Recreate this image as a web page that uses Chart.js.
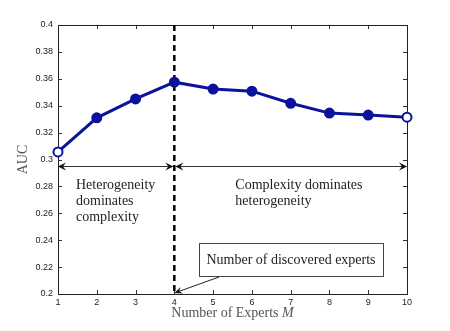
<!DOCTYPE html>
<html><head><meta charset="utf-8">
<script src="https://cdn.jsdelivr.net/npm/chart.js@4/dist/chart.umd.min.js"></script>
<style>html,body{margin:0;padding:0;background:#fff}#wrap{width:450px;height:331px}</style>
</head><body><div id="wrap"><canvas id="c" width="450" height="331"></canvas></div>
<script>
const experts = [1,2,3,4,5,6,7,8,9,10];
const auc = [0.3056,0.3310,0.3450,0.3575,0.3524,0.3508,0.3418,0.3345,0.3330,0.3315];
const xTicks = [1,2,3,4,5,6,7,8,9,10];
const yTicks = [0.2,0.22,0.24,0.26,0.28,0.3,0.32,0.34,0.36,0.38,0.4];
const splitM = 4;
const arrowY = 0.2955;
const leftText = ["Heterogeneity","dominates","complexity"];
const rightText = ["Complexity dominates","heterogeneity"];
const boxText = "Number of discovered experts";

const serif = '"Liberation Serif", "DejaVu Serif", serif';
function arrowHead(ctx, x, y, dir){
  ctx.save();
  ctx.fillStyle='#111';
  ctx.beginPath();
  ctx.moveTo(x,y);
  ctx.lineTo(x-dir*8,y-4);
  ctx.lineTo(x-dir*5,y);
  ctx.lineTo(x-dir*8,y+4);
  ctx.closePath();ctx.fill();
  ctx.restore();
}
const deco = {
  id:'deco',
  beforeDatasetsDraw(chart){
    const {ctx, chartArea:a, scales:{x,y}} = chart;
    ctx.save();
    // ticks inward
    ctx.strokeStyle='#333';ctx.lineWidth=1;
    xTicks.forEach(v=>{const px=Math.round(x.getPixelForValue(v))+0.5;
      ctx.beginPath();ctx.moveTo(px,a.bottom);ctx.lineTo(px,a.bottom-4);ctx.moveTo(px,a.top);ctx.lineTo(px,a.top+4);ctx.stroke();});
    yTicks.forEach(v=>{const py=Math.round(y.getPixelForValue(v))+0.5;
      ctx.beginPath();ctx.moveTo(a.left,py);ctx.lineTo(a.left+4,py);ctx.moveTo(a.right,py);ctx.lineTo(a.right-4,py);ctx.stroke();});
    // box
    ctx.strokeStyle='#222';ctx.lineWidth=1;
    ctx.strokeRect(Math.round(a.left)+0.5,Math.round(a.top)+0.5,Math.round(a.right-a.left),Math.round(a.bottom-a.top));
    // dashed line
    const sx = x.getPixelForValue(splitM);
    ctx.strokeStyle='#000';ctx.lineWidth=2.5;ctx.setLineDash([6,4]);
    ctx.beginPath();ctx.moveTo(sx,a.top);ctx.lineTo(sx,a.bottom);ctx.stroke();
    ctx.setLineDash([]);
    // arrows
    const ay = Math.round(y.getPixelForValue(arrowY))+0.5;
    const x1 = x.getPixelForValue(experts[0]), x2 = x.getPixelForValue(experts[experts.length-1]);
    ctx.strokeStyle='#333';ctx.lineWidth=1;
    ctx.beginPath();ctx.moveTo(x1+2,ay);ctx.lineTo(sx-2,ay);ctx.moveTo(sx+2,ay);ctx.lineTo(x2-2,ay);ctx.stroke();
    arrowHead(ctx,x1,ay,-1);arrowHead(ctx,sx-1,ay,1);arrowHead(ctx,sx+1,ay,-1);arrowHead(ctx,x2,ay,1);
    // texts
    ctx.fillStyle='#222';ctx.font='14px '+serif;ctx.textBaseline='middle';ctx.textAlign='left';
    leftText.forEach((t,i)=>ctx.fillText(t, a.left+18, ay+19+i*16));
    rightText.forEach((t,i)=>ctx.fillText(t, sx+61, ay+19+i*16));
    // annotation box
    const bx=199, by=243, bw=184, bh=33;
    ctx.fillStyle='#fff';ctx.fillRect(bx,by,bw,bh);
    ctx.strokeStyle='#444';ctx.strokeRect(bx+0.5,by+0.5,bw,bh);
    ctx.fillStyle='#222';ctx.textAlign='center';
    ctx.fillText(boxText, bx+bw/2, by+bh/2+1);
    // pointer arrow
    const tx = sx, ty = a.bottom-1;
    ctx.strokeStyle='#222';ctx.beginPath();ctx.moveTo(219,by+bh+1);ctx.lineTo(tx+3,ty-1);ctx.stroke();
    ctx.save();ctx.translate(tx,ty);ctx.rotate(Math.atan2(ty-(by+bh+1), tx-219));
    ctx.fillStyle='#111';ctx.beginPath();ctx.moveTo(0,0);ctx.lineTo(-8,-3.5);ctx.lineTo(-5,0);ctx.lineTo(-8,3.5);ctx.closePath();ctx.fill();
    ctx.restore();
    // axis titles
    ctx.fillStyle='#555';ctx.textAlign='left';ctx.textBaseline='middle';
    const t1='Number of Experts ';
    ctx.font='14px '+serif;const w1=ctx.measureText(t1).width;
    ctx.font='italic 14px '+serif;const w2=ctx.measureText('M').width;
    const cx=(a.left+a.right)/2, sx0=cx-(w1+w2)/2, ty2=a.bottom+19;
    ctx.font='14px '+serif;ctx.fillText(t1,sx0,ty2);
    ctx.font='italic 14px '+serif;ctx.fillText('M',sx0+w1,ty2);
    ctx.save();ctx.translate(23,(a.top+a.bottom)/2);ctx.rotate(-Math.PI/2);
    ctx.font='14px '+serif;ctx.textAlign='center';ctx.fillText('AUC',0,0);ctx.restore();
    ctx.restore();
  }
};
new Chart(document.getElementById('c'),{
  type:'line',
  data:{labels:experts,datasets:[{data:experts.map((m,i)=>({x:m,y:auc[i]})),
    borderColor:'#0b139c',borderWidth:3,
    pointRadius:4.5,pointBorderWidth:2,pointBorderColor:'#0b139c',
    pointBackgroundColor:experts.map((m,i)=>(i===0||i===experts.length-1)?'#fff':'#0b139c'),
    tension:0,clip:false}]},
  options:{responsive:false,animation:false,devicePixelRatio:1,
    layout:{padding:{top:25,right:43,bottom:0,left:0}},
    plugins:{legend:{display:false},tooltip:{enabled:false}},
    scales:{
      x:{type:'linear',min:1,max:10,
        afterBuildTicks(s){s.ticks=xTicks.map(v=>({value:v}));},
        afterFit(s){s.height=37;},
        grid:{display:false,drawTicks:false},border:{display:false},
        ticks:{padding:3,color:'#222',font:{family:'"Liberation Sans", Arial, sans-serif',size:9},maxRotation:0,autoSkip:false,callback:v=>String(v)}},
      y:{min:0.2,max:0.4,
        afterBuildTicks(s){s.ticks=yTicks.map(v=>({value:v}));},
        afterFit(s){s.width=58;},
        grid:{display:false,drawTicks:false},border:{display:false},
        ticks:{padding:5,color:'#222',font:{family:'"Liberation Sans", Arial, sans-serif',size:9},autoSkip:false,callback:v=>String(+v.toFixed(2))}}
    }},
  plugins:[deco]
});
</script></body></html>
